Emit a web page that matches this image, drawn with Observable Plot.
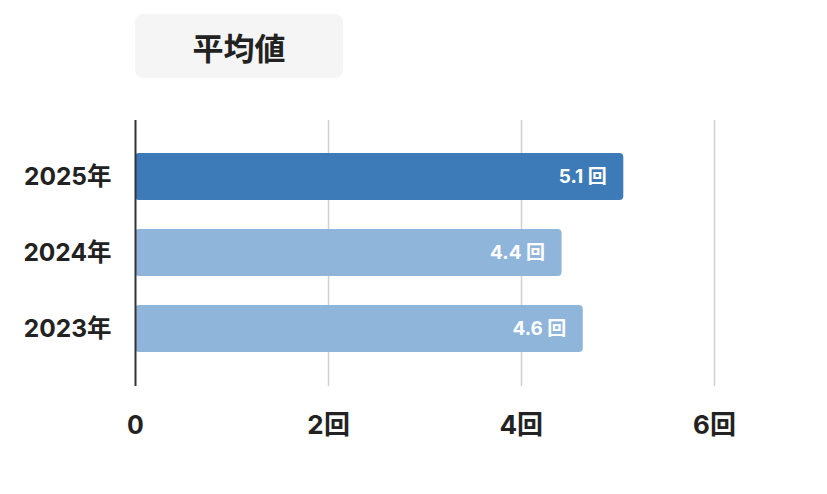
<!DOCTYPE html>
<html><head><meta charset="utf-8">
<script src="https://cdn.jsdelivr.net/npm/d3@7"></script>
<script src="https://cdn.jsdelivr.net/npm/@observablehq/plot@0.6"></script>
<style>
body{margin:0;background:#fff;font-family:Inter,"Noto Sans CJK JP",sans-serif;}
#wrap{width:827px;height:494px;position:relative;}
#head{height:120px;position:relative}
#title{position:absolute;left:135px;top:14px;width:208px;height:64px;background:#f5f5f5;border-radius:8px;display:flex;align-items:center;justify-content:center;font-size:31px;font-weight:700;color:#222;}
</style></head><body>
<div id="wrap"><div id="head"><div id="title">平均値</div></div><div id="chart"></div></div>
<script>
const years = ["2025年", "2024年", "2023年"];
const values = [5.06, 4.42, 4.64];
const labels = ["5.1 回", "4.4 回", "4.6 回"];
const barColors = ["#3d7ab8", "#8fb5da", "#8fb5da"];
const xTicks = [0, 2, 4, 6];
const xTickLabels = ["0", "2回", "4回", "6回"];

const data = years.map((y, i) => ({year: y, value: values[i], label: labels[i], color: barColors[i]}));

const chart = Plot.plot({
  width: 827, height: 374,
  marginTop: 0, marginBottom: 108, marginLeft: 135, marginRight: 16.5,
  style: {fontFamily: 'Inter, "Noto Sans CJK JP", sans-serif', color: "#222", background: "transparent"},
  x: {domain: [0, 7], axis: null},
  y: {domain: years, axis: null, paddingInner: 0.38, paddingOuter: 0.44},
  marks: [
    Plot.ruleX(xTicks.slice(1), {stroke: "#d0d0d0", strokeWidth: 1.5}),
    Plot.barX(data, {x: "value", y: "year", fill: "color", rx: 4}),
    Plot.ruleX([0], {stroke: "#333", strokeWidth: 2}),
    Plot.text(data, {x: "value", y: "year", text: "label", dx: -17, textAnchor: "end", fill: "white", fontSize: 19, fontWeight: 700}),
    Plot.axisX({ticks: xTicks, tickFormat: (d) => xTickLabels[xTicks.indexOf(d)], tickSize: 0, tickPadding: 29, fontSize: 26, fontWeight: 700, fill: "#222", label: null}),
    Plot.axisY({tickSize: 0, tickPadding: 24, fontSize: 24.5, fontWeight: 700, fill: "#222", label: null})
  ]
});
document.getElementById("chart").appendChild(chart);
</script>
</body></html>
